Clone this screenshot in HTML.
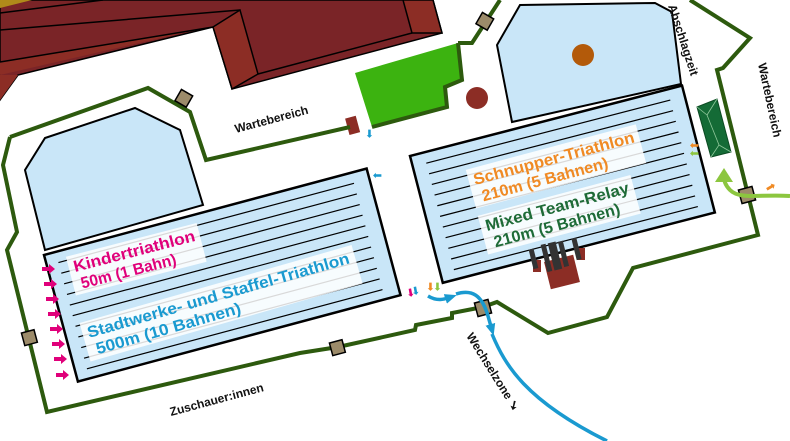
<!DOCTYPE html>
<html><head><meta charset="utf-8"><style>
html,body{margin:0;padding:0;background:#fff;}
svg{display:block;font-family:"Liberation Sans",sans-serif;}
</style></head><body>
<svg width="790" height="441" viewBox="0 0 790 441" xmlns="http://www.w3.org/2000/svg">
<defs>
<marker id="ab" markerWidth="12" markerHeight="12" refX="6" refY="6" orient="auto" markerUnits="userSpaceOnUse"><path d="M0,1 L12,6 L0,11 z" fill="#1a9ad0"/></marker>
<g id="ma"><polygon points="0,-2 7,-2 7,-5 13,0 7,5 7,2 0,2" fill="#e0007a"/></g>
</defs>
<!-- buildings -->
<polygon points="0,0 433,0 442,33 232,89 213,27 18,75 0,100" fill="#7a2427" stroke="#000" stroke-width="1.5"/>
<polygon points="0,62 213,27 217,25 0,75" fill="#8c2d25"/>
<polygon points="213,27 240,10 258,74 232,89" fill="#8c2d25" stroke="#000" stroke-width="1.5"/>
<polygon points="403,0 433,0 442,33 412,33" fill="#8c2d25" stroke="#000" stroke-width="1.5"/>
<polygon points="0,75 18,75 0,100" fill="#8c2d25"/>
<polygon points="0,0 32,0 0,8" fill="#b08a1a"/>
<g stroke="#000" stroke-width="1.5" fill="none">
<line x1="258" y1="74" x2="412" y2="33"/>
<line x1="0" y1="30" x2="240" y2="10"/>
<line x1="0" y1="13" x2="103" y2="0"/>
<line x1="0" y1="62" x2="213" y2="27"/>
</g>

<!-- green area -->
<polygon points="355,73 458,43 462,80 445,87 447,107 372,127" fill="#3cb310"/>
<polyline points="458,43 462,80 445,87 447,107 372,127" fill="none" stroke="#2d5a0e" stroke-width="4"/>
<circle cx="477" cy="98" r="11" fill="#8c2d25"/>
<rect x="347" y="117" width="11" height="17" fill="#8c2d25" transform="rotate(-15 352 125)"/>

<!-- boundary lines -->
<g fill="none" stroke="#2d5a0e" stroke-width="4" stroke-linejoin="miter">
<polyline points="10,137 148,88 190,112 206,160 350,127"/>
<polyline points="458,43 472,43 500,0"/>
<polyline points="10,137 3,165 17,232 7,250 47,412 300,353 338,347 415,330 416,325 452,318 452,313 483,307"/>
<polyline points="483,307 497,302 548,333 607,317 633,268 758,235 717,70 723,68 750,38 690,0"/>
</g>

<!-- top buildings pale blue -->
<polygon points="45,250 25,170 45,138 135,108 180,130 203,205" fill="#c9e6f8" stroke="#000" stroke-width="2"/>
<polygon points="512,122 497,45 520,5 655,3 672,12 681,84" fill="#c9e6f8" stroke="#000" stroke-width="2"/>
<circle cx="583" cy="55" r="11" fill="#b35a0a"/>

<!-- left pool -->
<g transform="translate(44,255) rotate(-15)">
<rect x="0" y="0" width="334" height="131" fill="#c9e6f8" stroke="#000" stroke-width="2.5"/>
<g stroke="#000" stroke-width="1.2">
<line x1="12" y1="11" x2="318" y2="11"/><line x1="12" y1="22" x2="318" y2="22"/><line x1="12" y1="33" x2="318" y2="33"/><line x1="12" y1="44" x2="318" y2="44"/><line x1="12" y1="55" x2="318" y2="55"/><line x1="12" y1="66" x2="318" y2="66"/><line x1="12" y1="77" x2="318" y2="77"/><line x1="12" y1="88" x2="318" y2="88"/><line x1="12" y1="99" x2="318" y2="99"/><line x1="12" y1="110" x2="318" y2="110"/><line x1="12" y1="121" x2="318" y2="121"/>
</g>
</g>
<!-- right pool -->
<g transform="translate(410,156) rotate(-14.5)">
<rect x="0" y="0" width="281" height="131" fill="#c9e6f8" stroke="#000" stroke-width="2.5"/>
<g stroke="#000" stroke-width="1.2">
<line x1="14" y1="11" x2="266" y2="11"/><line x1="14" y1="22" x2="266" y2="22"/><line x1="14" y1="33" x2="266" y2="33"/><line x1="14" y1="44" x2="266" y2="44"/><line x1="14" y1="55" x2="266" y2="55"/><line x1="14" y1="66" x2="266" y2="66"/><line x1="14" y1="77" x2="266" y2="77"/><line x1="14" y1="88" x2="266" y2="88"/><line x1="14" y1="99" x2="266" y2="99"/><line x1="14" y1="110" x2="266" y2="110"/><line x1="14" y1="121" x2="266" y2="121"/>
</g>
</g>

<!-- pool labels -->
<g font-weight="bold" font-size="16">
<g transform="translate(75,272) rotate(-14.5)">
<rect x="-5" y="-17" width="135" height="40" fill="#fff" opacity="0.85"/>
<text x="0" y="0" fill="#e0007a" textLength="125" lengthAdjust="spacingAndGlyphs">Kindertriathlon</text>
<text x="3" y="18" fill="#e0007a" textLength="98" lengthAdjust="spacingAndGlyphs">50m (1 Bahn)</text>
</g>
<g transform="translate(89,338) rotate(-16)">
<rect x="-5" y="-17" width="283" height="40" fill="#fff" opacity="0.85"/>
<text x="0" y="0" fill="#1a9ad0" textLength="272" lengthAdjust="spacingAndGlyphs">Stadtwerke- und Staffel-Triathlon</text>
<text x="4" y="18" fill="#1a9ad0" textLength="150" lengthAdjust="spacingAndGlyphs">500m (10 Bahnen)</text>
</g>
<g transform="translate(475,185) rotate(-15)">
<rect x="-5" y="-17" width="176" height="40" fill="#fff" opacity="0.85"/>
<text x="0" y="0" fill="#f08a24" textLength="166" lengthAdjust="spacingAndGlyphs">Schnupper-Triathlon</text>
<text x="4" y="18" fill="#f08a24" textLength="130" lengthAdjust="spacingAndGlyphs">210m (5 Bahnen)</text>
</g>
<g transform="translate(487,231) rotate(-15)">
<rect x="-5" y="-17" width="158" height="40" fill="#fff" opacity="0.85"/>
<text x="0" y="0" fill="#1e6b37" textLength="148" lengthAdjust="spacingAndGlyphs">Mixed Team-Relay</text>
<text x="4" y="18" fill="#1e6b37" textLength="130" lengthAdjust="spacingAndGlyphs">210m (5 Bahnen)</text>
</g>
</g>

<!-- magenta arrows -->
<use href="#ma" x="42" y="269"/>
<use href="#ma" x="44" y="284"/>
<use href="#ma" x="46" y="299"/>
<use href="#ma" x="48" y="314"/>
<use href="#ma" x="50" y="329"/>
<use href="#ma" x="52" y="344"/>
<use href="#ma" x="54" y="359"/>
<use href="#ma" x="56" y="375"/>

<!-- stage -->
<rect x="547" y="258" width="30" height="28" fill="#8c2d25" transform="rotate(-14 562 272)"/>
<rect x="533" y="260" width="8" height="12" fill="#8c2d25"/>
<rect x="577" y="248" width="8" height="12" fill="#8c2d25"/>
<g fill="#333">
<rect x="531" y="249" width="5" height="20" transform="rotate(-14 533 259)"/>
<rect x="544" y="244" width="5" height="28" transform="rotate(-14 546 258)"/>
<rect x="551" y="242" width="8" height="28" transform="rotate(-14 555 256)"/>
<rect x="561" y="241" width="5" height="26" transform="rotate(-14 563 254)"/>
<rect x="574" y="238" width="5" height="22" transform="rotate(-14 576 249)"/>
</g>

<!-- tent -->
<polygon points="697,107 717,99 731,152 711,157" fill="#146b36" stroke="#0c4a22" stroke-width="1"/>
<polyline points="697,107 707,115 719,145 711,157" fill="none" stroke="#8fc79a" stroke-width="0.8"/>
<line x1="717" y1="99" x2="707" y2="115" stroke="#8fc79a" stroke-width="0.8"/>
<line x1="719" y1="145" x2="731" y2="152" stroke="#8fc79a" stroke-width="0.8"/>

<!-- markers -->
<g fill="#9c8b6a" stroke="#000" stroke-width="1.5">
<rect x="177" y="92" width="13" height="13" transform="rotate(30 184 99)"/>
<rect x="478" y="15" width="13" height="13" transform="rotate(30 485 22)"/>
<rect x="23" y="331" width="13" height="13" transform="rotate(-15 30 338)"/>
<rect x="331" y="341" width="13" height="13" transform="rotate(-15 338 348)"/>
<rect x="476" y="301" width="14" height="14" transform="rotate(-15 483 308)"/>
<rect x="740" y="188" width="14" height="14" transform="rotate(-15 747 195)"/>
</g>

<!-- blue route -->
<path d="M428,296 C438,302 445,299 451,297" fill="none" stroke="#1a9ad0" stroke-width="3.5" marker-end="url(#ab)"/>
<path d="M456,294 C472,289 482,295 488,316 L492,330" fill="none" stroke="#1a9ad0" stroke-width="3.5" marker-end="url(#ab)"/>
<path d="M492,334 C505,365 525,400 607,441" fill="none" stroke="#1a9ad0" stroke-width="3.5"/>
<!-- light green route -->
<path d="M790,196 C760,194 740,200 730,190 C725,185 724,180 724,178" fill="none" stroke="#8cc63f" stroke-width="4"/>
<polygon points="715,182 724,168 733,182" fill="#8cc63f"/>
<!-- small arrows -->
<text x="765" y="191" font-size="12" fill="#f08a24" transform="rotate(-30 770 186)">➡</text>
<text x="683" y="148" font-size="11" fill="#f08a24" transform="rotate(180 691 145)">➡</text>
<text x="683" y="156" font-size="11" fill="#8cc63f" transform="rotate(180 691 153)">➡</text>
<text x="364" y="139" font-size="11" fill="#1a9ad0" transform="rotate(90 370 135)">➡</text>
<text x="370" y="180" font-size="11" fill="#1a9ad0" transform="rotate(180 376 176)">➡</text>
<text x="406" y="295" font-size="11" fill="#e0007a" transform="rotate(80 410 292)">➡</text>
<text x="412" y="294" font-size="11" fill="#1a9ad0" transform="rotate(80 416 290)">➡</text>
<text x="426" y="289" font-size="11" fill="#f08a24" transform="rotate(90 430 286)">➡</text>
<text x="433" y="289" font-size="11" fill="#8cc63f" transform="rotate(90 437 286)">➡</text>

<!-- labels -->
<g font-weight="bold" font-size="12" fill="#111">
<text x="236" y="133" transform="rotate(-15 236 133)">Wartebereich</text>
<text x="668" y="6" transform="rotate(72 668 6)">Abschlagzeit</text>
<text x="758" y="64" transform="rotate(78 758 64)">Wartebereich</text>
<text x="171" y="416" transform="rotate(-15 171 416)">Zuschauer:innen</text>
<text x="466" y="336" transform="rotate(58 466 336)">Wechselzone ➘</text>
</g>
</svg>
</body></html>
